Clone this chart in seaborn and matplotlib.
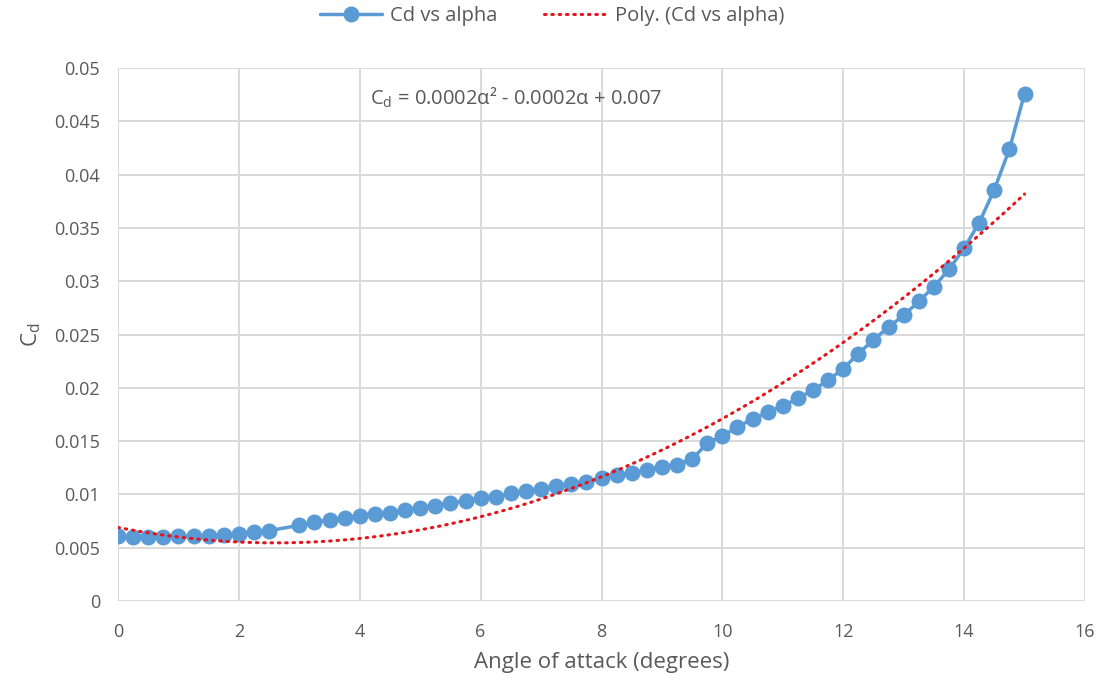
import numpy as np
import pandas as pd
import seaborn as sns
import matplotlib.pyplot as plt
from matplotlib.ticker import FuncFormatter

# angle of attack (deg) and drag coefficient (2.75 is absent)
alpha = [0, 0.25, 0.5, 0.75, 1.0, 1.25, 1.5, 1.75, 2.0, 2.25, 2.5,
         3.0, 3.25, 3.5, 3.75, 4.0, 4.25, 4.5, 4.75, 5.0, 5.25, 5.5, 5.75,
         6.0, 6.25, 6.5, 6.75, 7.0, 7.25, 7.5, 7.75, 8.0, 8.25, 8.5, 8.75,
         9.0, 9.25, 9.5, 9.75, 10.0, 10.25, 10.5, 10.75, 11.0, 11.25, 11.5, 11.75,
         12.0, 12.25, 12.5, 12.75, 13.0, 13.25, 13.5, 13.75, 14.0, 14.25, 14.5, 14.75, 15.0]
cd = [0.0061, 0.0060, 0.0060, 0.0060, 0.0061, 0.0061, 0.0061, 0.0062, 0.0063, 0.0065, 0.0066,
      0.0071, 0.0074, 0.0076, 0.0078, 0.0080, 0.0082, 0.0083, 0.0085, 0.0087, 0.0089, 0.0092, 0.0094,
      0.0097, 0.0098, 0.0101, 0.0103, 0.0105, 0.0108, 0.0110, 0.0112, 0.0115, 0.0118, 0.0120, 0.0123,
      0.0126, 0.0128, 0.0133, 0.0148, 0.0155, 0.0163, 0.0171, 0.0177, 0.0183, 0.0190, 0.0198, 0.0207,
      0.0218, 0.0232, 0.0245, 0.0257, 0.0268, 0.0281, 0.0295, 0.0311, 0.0331, 0.0355, 0.0386, 0.0424, 0.0476]

# quadratic trendline as drawn in the chart (a, b, c)
trend_coef = [0.000213, -0.00111, 0.0069]

df = pd.DataFrame({'alpha': alpha, 'cd': cd})
trend = pd.DataFrame({'alpha': np.linspace(0, 15, 300)})
trend['cd'] = np.polyval(trend_coef, trend['alpha'])

sns.set_theme(style='white')
plt.rcParams['font.family'] = ['Open Sans', 'DejaVu Sans']
plt.rcParams['mathtext.fontset'] = 'custom'
plt.rcParams['mathtext.rm'] = 'Open Sans'

grey = '#595959'
blue = '#5B9BD5'
red = '#E3141B'

fig = plt.figure(figsize=(11.05, 6.86), dpi=100)
ax = fig.add_axes([118 / 1105, 1 - 601 / 686, (1085 - 118) / 1105, (601 - 68) / 686])

sns.lineplot(data=df, x='alpha', y='cd', ax=ax, color=blue, linewidth=2.5,
             marker='o', markersize=11.5, markeredgewidth=0, label='Cd vs alpha', zorder=3)
sns.lineplot(data=trend, x='alpha', y='cd', ax=ax, color=red, linewidth=2.2,
             linestyle=(0, (0.5, 1.9)), dash_capstyle='round', label='Poly. (Cd vs alpha)', zorder=4)

ax.set_xlim(0, 16)
ax.set_ylim(0, 0.05)
ax.set_xticks(np.arange(0, 17, 2))
ax.set_yticks(np.arange(0, 0.0501, 0.005))
ax.yaxis.set_major_formatter(FuncFormatter(lambda v, p: f'{v:.3f}'.rstrip('0').rstrip('.') if v else '0'))
ax.grid(True, color='#D9D9D9', linewidth=1.4)
ax.set_axisbelow(True)
for s in ax.spines.values():
    s.set_visible(False)
ax.tick_params(axis='y', length=0, labelsize=13, labelcolor=grey, pad=13)
ax.tick_params(axis='x', length=0, labelsize=13, labelcolor=grey, pad=16)

ax.set_xlabel('Angle of attack (degrees)', fontsize=16, color=grey, labelpad=8)
ax.set_ylabel('C$_{\\rm d}$', fontsize=16, color=grey, labelpad=8)

ax.text(370 / 1105, 1 - 98 / 686, 'C$_{\\rm d}$ = 0.0002α² - 0.0002α + 0.007',
        transform=fig.transFigure, fontsize=14.5, color=grey, va='center', ha='left')

leg = ax.legend(loc='center', bbox_to_anchor=(552 / 1105, 1 - 16 / 686), bbox_transform=fig.transFigure,
                ncol=2, frameon=False, fontsize=14.5, handlelength=3.1, columnspacing=2.3, handletextpad=0.4)
for t in leg.get_texts():
    t.set_color(grey)

fig.savefig('out.png', dpi=100)
